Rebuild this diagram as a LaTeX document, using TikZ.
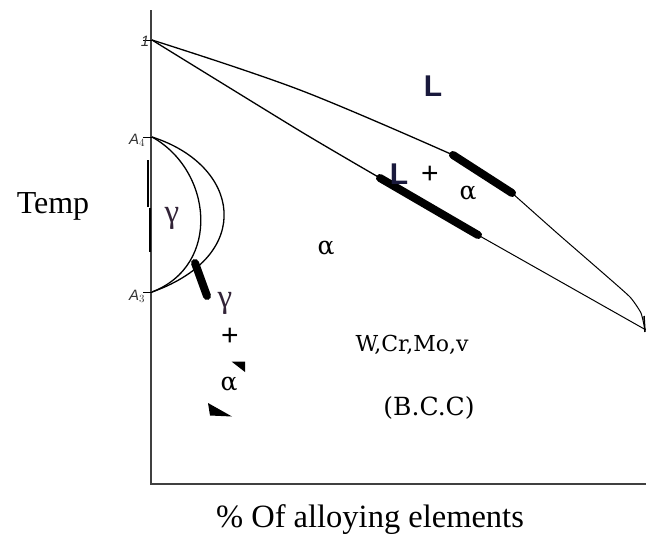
\documentclass[tikz,border=0pt]{standalone}
\usepackage{fontspec}
\setmainfont{Liberation Serif}
\newfontfamily\dvs{DejaVu Serif}
\newfontfamily\lsans{Liberation Sans}
\begin{document}
\begin{tikzpicture}[x=1pt,y=-1pt,
  axis/.style={line width=1.8pt,color=black!75},
  curve/.style={line width=1.3pt},
  thin curve/.style={line width=1pt},
  thick seg/.style={line width=8pt,line cap=round},
  lbl/.style={inner sep=0pt,anchor=center},
  small/.style={inner sep=0pt,font=\lsans\fontsize{15}{15}\selectfont\itshape,text=black!80},
  greek/.style={inner sep=0pt,font=\fontsize{33}{33}\selectfont,text={rgb,255:red,50;green,35;blue,55}},
  alpha/.style={inner sep=0pt,font=\dvs\fontsize{25}{25}\selectfont},
  bigL/.style={inner sep=0pt,font=\lsans\bfseries\fontsize{30}{30}\selectfont,text={rgb,255:red,25;green,25;blue,60}},
  plus/.style={inner sep=0pt,font=\lsans\fontsize{30}{30}\selectfont}]
\useasboundingbox (0,0) rectangle (646,536);
\fill[white] (0,0) rectangle (646,536);
% axes
\coordinate (top) at (151,10);
\coordinate (orig) at (151,484);
\coordinate (xend) at (646,484);
\draw[axis] (top) -- (orig) -- (xend);
% key points
\coordinate (P1) at (152,40);
\coordinate (A4) at (152,137);
\coordinate (A3) at (152,292);
\draw[line width=1pt] (143,40) -- (P1);
\draw[line width=1pt] (143,137) -- (A4);
\draw[line width=1pt] (143,292) -- (A3);
\node[small] (l1) at (145,41) {1};
\node[small] (la4) at (137,140) {A$_4$};
\node[small] (la3) at (137,296) {A$_3$};
% marks along axis
\draw[line width=2.4pt] (147.7,160) -- (147.7,207);
\draw[line width=2pt] (149.5,208) -- (149.5,252);
% liquidus (upper curve)
\coordinate (U1) at (453,155);
\coordinate (U2) at (512,193);
\draw[curve] plot[smooth,tension=0.6] coordinates {(152,40) (300,90) (U1)};
\draw[thin curve] plot[smooth,tension=0.3] coordinates {(U2) (557,233) (603,273) (630,297) (641,313) (645,330)};
\draw[curve] (U1) -- (U2);
% solidus (lower line)
\coordinate (S1) at (380,178);
\coordinate (S2) at (478,235);
\draw[curve] plot[smooth,tension=0.4] coordinates {(152,40) (300,131) (S1)};
\draw[thin curve] (S2) -- (646,330);
\draw[line width=1.5pt] (644,316) -- (645,332);
% thick segments
\draw[thick seg] (U1) -- (U2);
\draw[thick seg] (S1) -- (S2);
% gamma loop
\draw[curve] (A4) .. controls (212,170) and (222,265) .. (A3);
\draw[curve] (A4) .. controls (240,165) and (256,255) .. (A3);
\coordinate (G1) at (195,263);
\coordinate (G2) at (207,296);
\draw[line width=8pt,line cap=round] (G1) -- (G2);
% triangle marks
\fill (231.5,361.5) -- (245,361.5) -- (245,372) -- cycle;
\fill (208,403) -- (232,416.5) -- (210,415.5) -- cycle;
% labels
\node[lbl,font=\fontsize{32}{32}\selectfont] (temp) at (53,206) {Temp};
\node[lbl,font=\fontsize{32.5}{32}\selectfont] (xlab) at (370,520) {\% Of alloying elements};
\node[bigL] (L) at (433,86) {L};
\node[bigL] (L2) at (399,174) {L};
\node[plus] (p1) at (430,175) {+};
\node[alpha] (a1) at (468,193) {α};
\node[alpha] (a2) at (326,248) {α};
\node[greek] (g1) at (172,218) {γ};
\node[greek] (g2) at (225,303) {γ};
\node[plus] (p2) at (230,337) {+};
\node[alpha] (a3) at (229,384) {α};
\node[lbl,font=\dvs\fontsize{22}{22}\selectfont] (wcr) at (412,345) {W,Cr,Mo,v};
\node[lbl,font=\dvs\fontsize{25}{25}\selectfont] (bcc) at (429,408) {(B.C.C)};
\end{tikzpicture}
\end{document}
